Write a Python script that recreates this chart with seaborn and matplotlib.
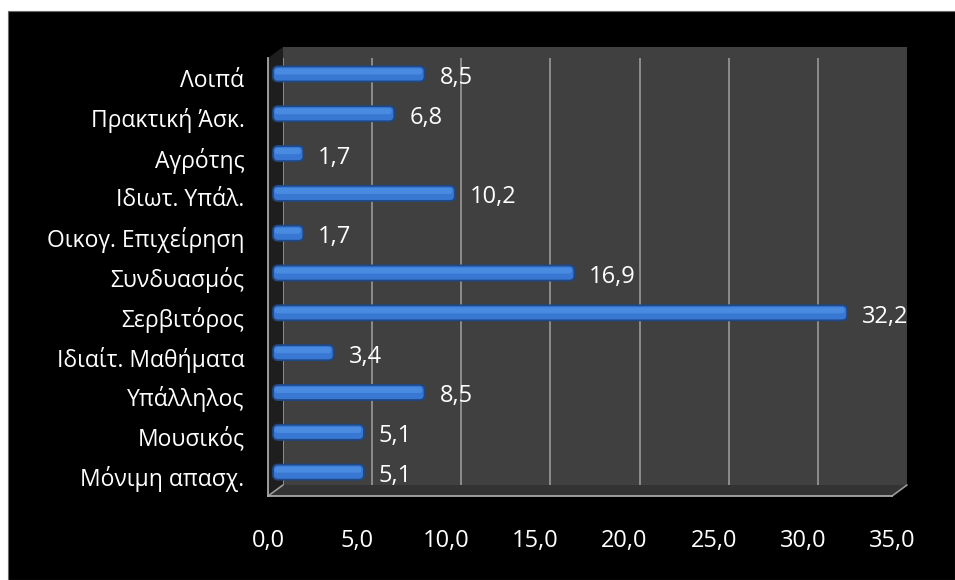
import matplotlib
matplotlib.use("Agg")
import matplotlib.pyplot as plt
import matplotlib.transforms as mtransforms
from matplotlib.patches import Rectangle, Polygon, FancyBboxPatch
from matplotlib.lines import Line2D
import seaborn as sns
import pandas as pd
import numpy as np

categories = ["Λοιπά", "Πρακτική Άσκ.", "Αγρότης", "Ιδιωτ. Υπάλ.", "Οικογ. Επιχείρηση",
              "Συνδυασμός", "Σερβιτόρος", "Ιδιαίτ. Μαθήματα", "Υπάλληλος", "Μουσικός",
              "Μόνιμη απασχ."]
values = [8.5, 6.8, 1.7, 10.2, 1.7, 16.9, 32.2, 3.4, 8.5, 5.1, 5.1]
xticks = [0, 5, 10, 15, 20, 25, 30, 35]
xticklabels = ["0,0", "5,0", "10,0", "15,0", "20,0", "25,0", "30,0", "35,0"]

df = pd.DataFrame({"cat": categories, "val": values})

sns.set_theme(style="white")
FAM = ["Open Sans", "DejaVu Sans"]
plt.rcParams["font.family"] = FAM

W, H, DPI = 955, 580, 100
fig = plt.figure(figsize=(W / DPI, H / DPI), dpi=DPI, facecolor="white")
fig.patches.append(Rectangle((8 / W, 0), 1 - 8 / W, (H - 11) / H, transform=fig.transFigure,
                             facecolor="black", edgecolor="#6a6a6a", lw=0.8, zorder=-10))

x0, x1, ytop, ybot = 268, 892, 58, 496
ax = fig.add_axes([x0 / W, 1 - ybot / H, (x1 - x0) / W, (ybot - ytop) / H])
ax.set_facecolor("none")

sns.barplot(data=df, x="val", y="cat", order=categories, orient="h", ax=ax,
            color="#3a7bd5", edgecolor="none", linewidth=0, width=0.38,
            saturation=1, zorder=3)

ax.set_xlim(0, 35)
ax.set_ylim(10.5, -0.5)

# 3D depth offsets (pixels)
bdx, bdy = 15, 11
dxa, dya = bdx / (x1 - x0), bdy / (ybot - ytop)
back_off = mtransforms.ScaledTranslation(bdx / DPI, bdy / DPI, fig.dpi_scale_trans)
mid_off = mtransforms.ScaledTranslation(5 / DPI, 4 / DPI, fig.dpi_scale_trans)

# walls
ax.add_patch(Rectangle((dxa, dya), 1, 1, transform=ax.transAxes, facecolor="#404040",
                       edgecolor="none", zorder=0, clip_on=False))
ax.add_patch(Polygon([(0, 0), (dxa, dya), (dxa, 1 + dya), (0, 1)], closed=True,
                     transform=ax.transAxes, facecolor="#1e1e1e", edgecolor="none",
                     zorder=0.6, clip_on=False))
ax.add_patch(Polygon([(0, 0), (1, 0), (1 + dxa, dya), (dxa, dya)], closed=True,
                     transform=ax.transAxes, facecolor="#333333", edgecolor="none",
                     zorder=0.6, clip_on=False))
for xs, ys in [((0, dxa), (0, dya)), ((1, 1 + dxa), (0, dya))]:
    ax.add_line(Line2D(xs, ys, transform=ax.transAxes, color="#9a9a9a", lw=1.2,
                       zorder=0.7, clip_on=False))

# rounded, shaded bars built from seaborn's bar geometry
ux = (x1 - x0) / 35.0
uy = (ybot - ytop) / 11.0
bars = [p for p in list(ax.patches) if isinstance(p, Rectangle) and p.get_zorder() == 3]
for p in bars:
    bx, by = p.get_x(), p.get_y()
    bw, bh = p.get_width(), p.get_height()
    p.remove()
    main = FancyBboxPatch((bx, by), bw, bh, boxstyle="round,pad=0,rounding_size=0.28",
                          mutation_aspect=ux / uy, facecolor="#3877d2",
                          edgecolor="#1f4886", lw=1.3, zorder=3)
    main.set_transform(ax.transData + mid_off)
    ax.add_patch(main)
    hl = FancyBboxPatch((bx + 0.08, by + bh * 0.14), max(bw - 0.22, 0.05), bh * 0.4,
                        boxstyle="round,pad=0,rounding_size=0.15",
                        mutation_aspect=ux / uy, facecolor="#4a8be2",
                        edgecolor="none", zorder=3.1)
    hl.set_transform(ax.transData + mid_off)
    ax.add_patch(hl)

# value labels
for i, v in enumerate(values):
    ax.annotate(f"{v:.1f}".replace(".", ","), xy=(v, i), xytext=(20, 0),
                textcoords="offset pixels", ha="left", va="center",
                color="white", fontsize=17, family=FAM, zorder=5)

# axes & ticks
for s in ["top", "right"]:
    ax.spines[s].set_visible(False)
for s in ["left", "bottom"]:
    ax.spines[s].set_color("#a8a8a8")
    ax.spines[s].set_linewidth(1.3)
    ax.spines[s].set_zorder(4)

ax.set_xticks(xticks)
ax.set_xticklabels(xticklabels)
ax.set_yticks(range(len(categories)))
ax.set_yticklabels(categories)
ax.set_yticks(np.arange(-0.5, len(categories), 1), minor=True)
ax.tick_params(axis="y", which="major", length=0, pad=17, labelsize=16.5, labelcolor="white")
ax.tick_params(axis="y", which="minor", length=4, width=1.3, color="#a8a8a8", direction="out")
ax.tick_params(axis="x", which="major", length=7, width=1.3, color="#a8a8a8", direction="out",
               pad=17, labelsize=17, labelcolor="white")
ax.set_xlabel("")
ax.set_ylabel("")

# gridlines on the back wall
ax.grid(False)
for xv in xticks:
    ln = ax.axvline(xv, color="#9a9a9a", lw=1.2, zorder=0.5)
    ln.set_transform(ln.get_transform() + back_off)

fig.savefig("out.png", dpi=DPI, facecolor=fig.get_facecolor())
